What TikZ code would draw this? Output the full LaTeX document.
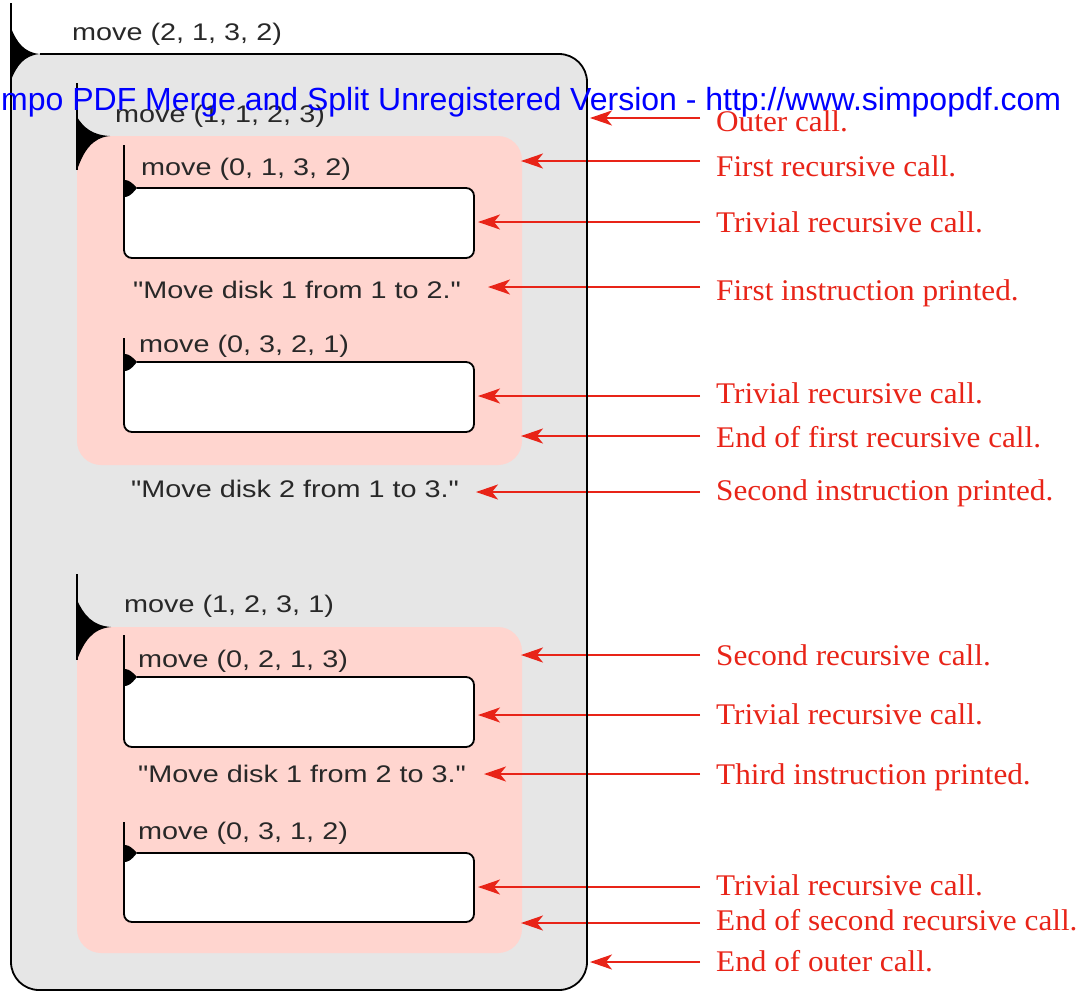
\documentclass[tikz,border=0pt]{standalone}
\usepackage{fontspec}
\setmainfont[FakeStretch=1.04]{Liberation Serif}
\newfontfamily\callfont[FakeStretch=1.2,Ligatures=TeXOff]{Liberation Sans}
\newfontfamily\markfont{Liberation Sans}
\usetikzlibrary{arrows.meta}
\definecolor{framegray}{RGB}{230,230,230}
\definecolor{callpink}{RGB}{255,213,207}
\definecolor{notered}{RGB}{232,36,24}
\definecolor{inkgray}{RGB}{40,40,40}
\definecolor{markblue}{RGB}{0,0,255}

% concave black wedge on a frame line: x0, top y, tip x, tip y, bottom y
\newcommand\callwedge[5]{%
  \fill[black] (#1,#2)
    .. controls (#1+0.2*#3-0.2*#1, #4-0.45*#4+0.45*#2) and (#3-0.55*#3+0.55*#1, #4-0.05*#4+0.05*#2) .. (#3,#4)
    .. controls (#3-0.55*#3+0.55*#1, #4+0.05*#5-0.05*#4) and (#1+0.2*#3-0.2*#1, #4+0.45*#5-0.45*#4) .. (#1,#5)
    -- cycle;}

% white box of a trivial call: line top, box top, box bottom
\newcommand\trivialbox[3]{%
  \fill[white, rounded corners=8pt] (124,#2) rectangle (474,#3);
  \fill[white] (124,#2) rectangle (140,#2+12);
  \draw[edge, rounded corners=8pt] (124,#1) -- (124,#3) -- (474,#3) -- (474,#2) -- (137,#2);
  \callwedge{124}{#2-8}{137}{#2}{#2+9}}

\begin{document}
\begin{tikzpicture}[x=1pt,y=-1pt,
  edge/.style={line width=1.8pt, draw=black},
  callname/.style={anchor=base west, inner sep=0pt, text=inkgray,
    font=\callfont\fontsize{24}{28}\selectfont},
  notelabel/.style={anchor=base west, inner xsep=16pt, inner ysep=0pt, text=notered,
    font=\fontsize{30}{34}\selectfont},
  notearrow/.style={draw=notered, line width=2pt,
    -{Stealth[length=22pt,width=15pt,inset=6pt]}},
]
\useasboundingbox (0,0) rectangle (1079,993);

% outer call frame
\fill[framegray, rounded corners=28pt] (11,54) rectangle (587,990);
\fill[framegray] (11,54) rectangle (60,100);

% first and second recursive calls
\fill[callpink, rounded corners=24pt] (77,136) rectangle (522,465);
\fill[callpink] (77,136) rectangle (120,180);
\fill[callpink, rounded corners=24pt] (77,627) rectangle (522,953);
\fill[callpink] (77,627) rectangle (120,670);

% notes and their arrows
\foreach \k/\base/\ay/\tx/\txt in {
  1/131/118/590/{Outer call.},
  2/176/161/521/{First recursive call.},
  3/232/222/478/{Trivial recursive call.},
  4/300/287/488/{First instruction printed.},
  5/403/396/478/{Trivial recursive call.},
  6/447/436/521/{End of first recursive call.},
  7/500/492/476/{Second instruction printed.},
  8/665/655/521/{Second recursive call.},
  9/724/715/478/{Trivial recursive call.},
  10/784/774/484/{Third instruction printed.},
  11/895/887/478/{Trivial recursive call.},
  12/930/923/521/{End of second recursive call.},
  13/971/962/590/{End of outer call.}}{
  \node[notelabel] (n\k) at (700,\base) {\txt};
  \coordinate (t\k) at (\tx,\ay);
  \draw[notearrow] (n\k.west |- t\k) -- (t\k);
}

% outer frame border
\draw[edge, rounded corners=28pt] (11,3) -- (11,990) -- (587,990) -- (587,54) -- (40,54);
\callwedge{11}{28}{40}{54}{80}

% recursive call frame lines
\draw[edge] (77,83) -- (77,170);
\callwedge{77}{117}{110}{136}{170}
\draw[edge] (77,574) -- (77,660);
\callwedge{77}{600}{111}{627}{660}

% trivial calls
\trivialbox{145}{188}{258}
\trivialbox{338}{362}{432}
\trivialbox{635}{677}{747}
\trivialbox{822}{853}{922}

% call names and printed instructions
\node[callname] (m0) at (72,40) {move (2, 1, 3, 2)};
\node[callname] (m1) at (115,122) {move (1, 1, 2, 3)};
\node[callname] (m2) at (141,175) {move (0, 1, 3, 2)};
\node[callname] (i1) at (133,298) {"Move disk 1 from 1 to 2."};
\node[callname] (m3) at (139,352) {move (0, 3, 2, 1)};
\node[callname] (i2) at (131,497) {"Move disk 2 from 1 to 3."};
\node[callname] (m4) at (124,612) {move (1, 2, 3, 1)};
\node[callname] (m5) at (138,667) {move (0, 2, 1, 3)};
\node[callname] (i3) at (138,782) {"Move disk 1 from 2 to 3."};
\node[callname] (m6) at (138,839) {move (0, 3, 1, 2)};

% stamp line across the top
\node[anchor=base west, inner sep=0pt, text=markblue,
  font=\markfont\fontsize{32}{36}\selectfont] (wm) at (1,110)
  {mpo PDF Merge and Split Unregistered Version - http://www.simpopdf.com};
\end{tikzpicture}
\end{document}
